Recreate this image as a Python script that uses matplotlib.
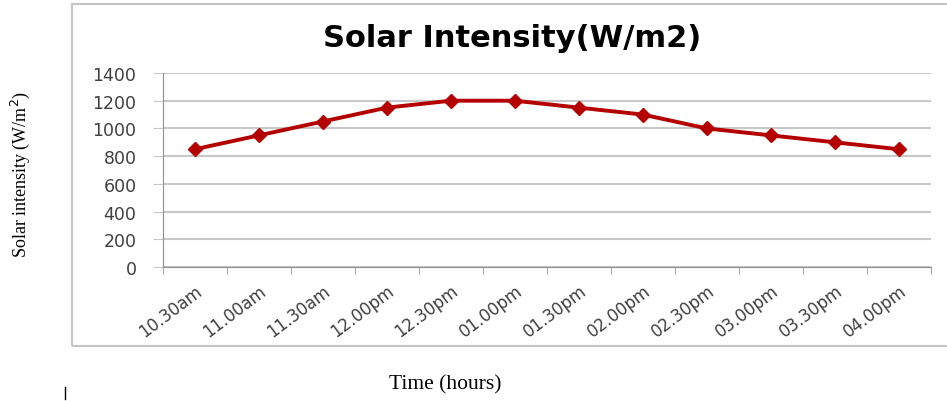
import numpy as np
import matplotlib.pyplot as plt
from matplotlib.patches import Rectangle
from matplotlib.lines import Line2D

times = ["10.30am", "11.00am", "11.30am", "12.00pm", "12.30pm", "01.00pm",
         "01.30pm", "02.00pm", "02.30pm", "03.00pm", "03.30pm", "04.00pm"]
intensity = [850, 950, 1050, 1150, 1200, 1200, 1150, 1100, 1000, 950, 900, 850]
yticks = [0, 200, 400, 600, 800, 1000, 1200, 1400]


def main():
    fig = plt.figure(figsize=(9.47, 4.02), dpi=100)
    fig.patch.set_facecolor("white")

    # outer chart box (runs off the right edge like the source)
    fig.add_artist(Rectangle((0.076, 0.137), 0.94, 0.851, transform=fig.transFigure,
                             fill=False, edgecolor="#C4C4C4", linewidth=1.5))
    fig.add_artist(Line2D([0.0687, 0.0687], [0.005, 0.035], transform=fig.transFigure,
                          color="black", linewidth=1))

    ax = fig.add_axes([0.172, 0.333, 0.811, 0.483])
    x = np.arange(len(times))
    ax.plot(x, intensity, color="#B40000", linewidth=2.8, marker="D", markersize=7.5,
            zorder=3)

    ax.set_xlim(-0.5, len(times) - 0.5)
    ax.set_ylim(0, 1400)
    ax.set_yticks(yticks)
    ax.set_yticklabels([str(v) for v in yticks], fontsize=12.5, color="#404040",
                       family="DejaVu Sans")
    ax.set_xticks(x)
    ax.set_xticklabels(times, rotation=37, ha="right", rotation_mode="anchor",
                       fontsize=12, color="#404040", family="DejaVu Sans")
    ax.set_xticks(np.arange(-0.5, len(times)), minor=True)
    ax.tick_params(axis="x", which="major", length=0, pad=10)
    ax.tick_params(axis="x", which="minor", length=5, color="#909090")
    ax.tick_params(axis="y", length=7, color="#C8C8C8", pad=12)

    ax.grid(axis="y", color="#C8C8C8", linewidth=1.5)
    ax.set_axisbelow(True)
    for s in ["top", "right"]:
        ax.spines[s].set_visible(False)
    ax.spines["left"].set_color("#909090")
    ax.spines["bottom"].set_color("#909090")

    fig.text(0.541, 0.905, "Solar Intensity(W/m2)", ha="center", va="center",
             fontsize=22, fontweight="bold", family="DejaVu Sans")
    fig.text(0.022, 0.565, "Solar intensity (W/m$^{2}$)", rotation=90, ha="center",
             va="center", fontsize=13, family="Liberation Serif")
    fig.text(0.47, 0.042, "Time (hours)", ha="center", va="center", fontsize=15.5,
             family="Liberation Serif")

    fig.savefig("out.png", dpi=100)


if __name__ == "__main__":
    main()
